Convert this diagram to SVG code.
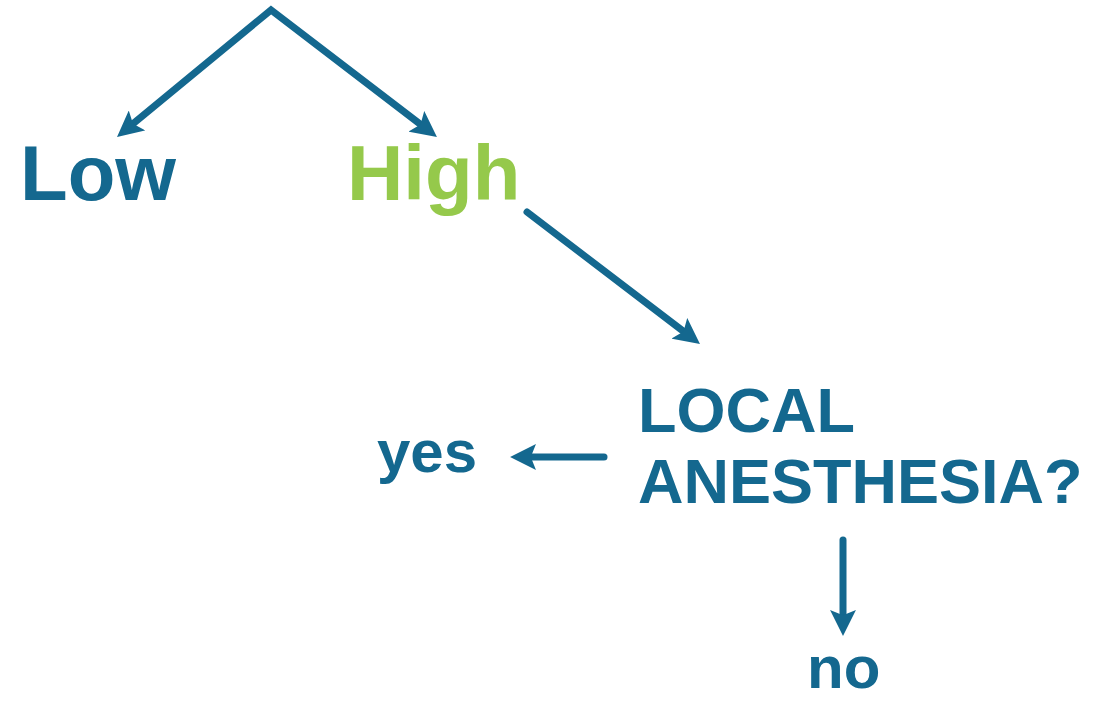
<svg xmlns="http://www.w3.org/2000/svg" width="1096" height="702" viewBox="0 0 1096 702">
<style>
.t{font-family:"Liberation Sans",Arial,sans-serif;font-weight:bold;fill:#14688f}
.g{fill:#95c94b}
.c{fill:none;stroke:#14688f;stroke-width:7;stroke-linecap:round;stroke-linejoin:miter}
</style>
<defs>
<marker id="ah" viewBox="0 0 10 10" markerWidth="3.7" markerHeight="3.7" refX="2" refY="5" orient="auto-start-reverse" markerUnits="strokeWidth">
<path d="M0,0 L10,5 L0,10 L2,5 z" fill="#14688f"/>
</marker>
</defs>
<rect width="1096" height="702" fill="#ffffff"/>
<g id="connectors">
<path class="c" d="M133,123.8 L271,10 L420.5,124.4" marker-start="url(#ah)" marker-end="url(#ah)"/>
<path class="c" d="M527,212 L683.5,331.4" marker-end="url(#ah)"/>
<path class="c" d="M604,457 L530.8,457" marker-end="url(#ah)"/>
<path class="c" d="M843,540 L843,615.2" marker-end="url(#ah)"/>
</g>
<g id="low"><text class="t" x="20" y="200" font-size="78">Low</text></g>
<g id="high"><text class="t g" x="347" y="200" font-size="78">High</text></g>
<g id="question"><text class="t" x="638" y="432" font-size="63">LOCAL</text><text class="t" x="638" y="503" font-size="63">ANESTHESIA?</text></g>
<g id="yes"><text class="t" x="377" y="472" font-size="60">yes</text></g>
<g id="no"><text class="t" x="807" y="688" font-size="60">no</text></g>
</svg>
